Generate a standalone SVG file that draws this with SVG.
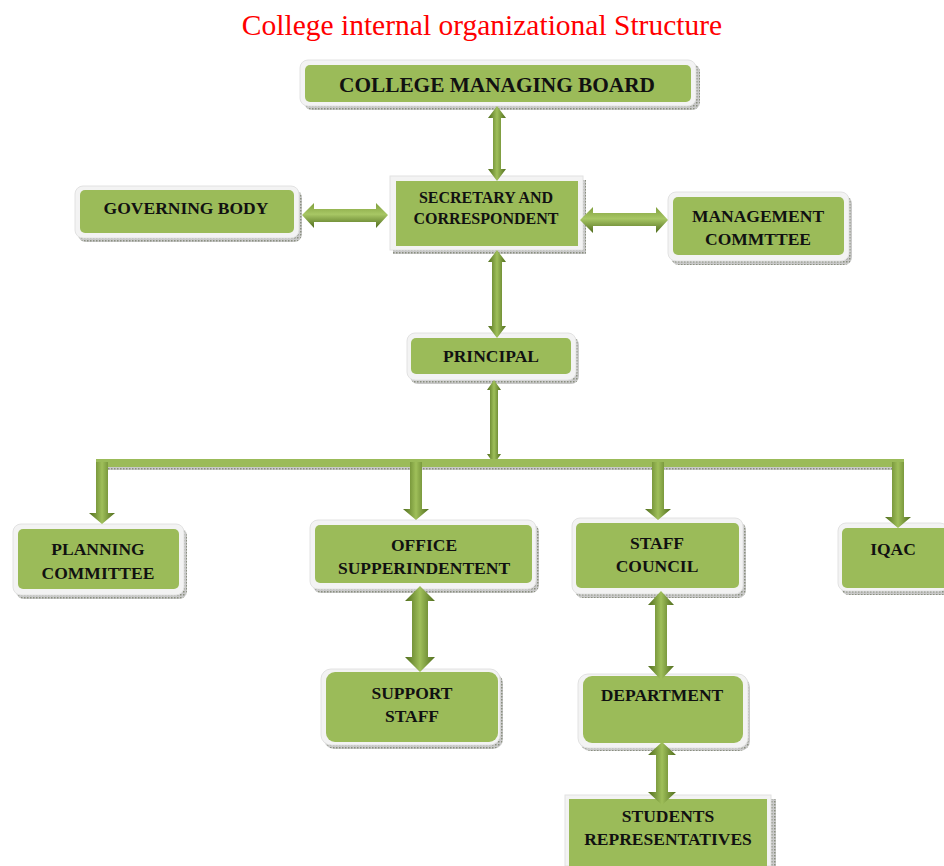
<svg xmlns="http://www.w3.org/2000/svg" width="944" height="866" viewBox="0 0 944 866">
<defs>
<linearGradient id="gv" x1="0" y1="0" x2="1" y2="0">
<stop offset="0" stop-color="#506d1c"/><stop offset="0.5" stop-color="#9fbf5a"/><stop offset="1" stop-color="#506d1c"/>
</linearGradient>
<linearGradient id="gh" x1="0" y1="0" x2="0" y2="1">
<stop offset="0" stop-color="#7f9f3c"/><stop offset="0.45" stop-color="#a8c765"/><stop offset="1" stop-color="#4f6b1c"/>
</linearGradient>
<pattern id="dots" width="3" height="3" patternUnits="userSpaceOnUse">
<rect width="3" height="3" fill="#c9c9c9"/><rect width="1.5" height="1.5" fill="#8a8f80"/>
</pattern>
</defs>
<style>
.title{font-family:"Liberation Serif","Times New Roman",serif;font-size:29.5px;fill:#ff0000}
.t{font-family:"Liberation Serif","Times New Roman",serif;font-weight:bold;font-size:17.5px;fill:#111;text-anchor:middle}
.shadow{fill:url(#dots)}
.outer{fill:#f3f3f3;stroke:#e2e2e2;stroke-width:1}
.inner{fill:#9bbb59}
.av{fill:url(#gv)}
.ah{fill:url(#gh)}
</style>
<rect width="944" height="866" fill="#ffffff"/>
<text class="title" x="482" y="35" text-anchor="middle">College internal organizational Structure</text>

<g id="board">
<rect class="shadow" x="304" y="64" width="396" height="46" rx="8"/>
<rect class="outer" x="300" y="60" width="396" height="46" rx="8"/>
<rect class="inner" x="305" y="65" width="386" height="37" rx="5"/>
<text class="t" x="497" y="92" style="font-size:21.3px">COLLEGE MANAGING BOARD</text>
</g>

<g id="secretary">
<rect class="shadow" x="393" y="180" width="193" height="74"/>
<rect class="outer" x="390" y="176" width="193" height="74"/>
<rect class="inner" x="396" y="181" width="182" height="65"/>
<text class="t" x="486" y="203" style="font-size:16px">SECRETARY AND</text>
<text class="t" x="486" y="224" style="font-size:16px">CORRESPONDENT</text>
</g>

<g id="governing">
<rect class="shadow" x="78" y="190" width="224" height="52" rx="8"/>
<rect class="outer" x="75" y="186" width="224" height="52" rx="8"/>
<rect class="inner" x="80" y="190" width="214" height="43" rx="5"/>
<text class="t" x="186" y="214">GOVERNING BODY</text>
</g>

<g id="management">
<rect class="shadow" x="671" y="196" width="181" height="69" rx="8"/>
<rect class="outer" x="668" y="192" width="181" height="69" rx="8"/>
<rect class="inner" x="673" y="197" width="171" height="58" rx="5"/>
<text class="t" x="758" y="222">MANAGEMENT</text>
<text class="t" x="758" y="245">COMMTTEE</text>
</g>

<g id="principal">
<rect class="shadow" x="410" y="337" width="169" height="47" rx="8"/>
<rect class="outer" x="407" y="333" width="169" height="47" rx="8"/>
<rect class="inner" x="411" y="338" width="160" height="36" rx="5"/>
<text class="t" x="491" y="362">PRINCIPAL</text>
</g>

<g id="planning">
<rect class="shadow" x="16" y="528" width="171" height="71" rx="8"/>
<rect class="outer" x="13" y="524" width="171" height="71" rx="8"/>
<rect class="inner" x="18" y="529" width="161" height="60" rx="5"/>
<text class="t" x="98" y="555">PLANNING</text>
<text class="t" x="98" y="579">COMMITTEE</text>
</g>

<g id="office">
<rect class="shadow" x="313" y="524" width="226" height="69" rx="8"/>
<rect class="outer" x="310" y="520" width="226" height="69" rx="8"/>
<rect class="inner" x="315" y="525" width="217" height="58" rx="5"/>
<text class="t" x="424" y="551">OFFICE</text>
<text class="t" x="424" y="574">SUPPERINDENTENT</text>
</g>

<g id="support">
<rect class="shadow" x="324" y="673" width="179" height="76" rx="10"/>
<rect class="outer" x="321" y="669" width="179" height="76" rx="10"/>
<rect class="inner" x="326" y="672" width="172" height="70" rx="9"/>
<text class="t" x="412" y="699">SUPPORT</text>
<text class="t" x="412" y="722">STAFF</text>
</g>

<g id="staffcouncil">
<rect class="shadow" x="575" y="522" width="171" height="76" rx="8"/>
<rect class="outer" x="572" y="518" width="171" height="76" rx="8"/>
<rect class="inner" x="576" y="523" width="163" height="65" rx="5"/>
<text class="t" x="657" y="549">STAFF</text>
<text class="t" x="657" y="572">COUNCIL</text>
</g>

<g id="iqac">
<rect class="shadow" x="841" y="527" width="110" height="68" rx="8"/>
<rect class="outer" x="838" y="523" width="110" height="68" rx="8"/>
<rect class="inner" x="842" y="528" width="106" height="60" rx="5"/>
<text class="t" x="893" y="555">IQAC</text>
</g>

<g id="department">
<rect class="shadow" x="580" y="677" width="170" height="74" rx="10"/>
<rect class="outer" x="578" y="674" width="170" height="74" rx="10"/>
<rect class="inner" x="583" y="676" width="160" height="67" rx="9"/>
<text class="t" x="662" y="701">DEPARTMENT</text>
</g>

<g id="students">
<rect class="shadow" x="768" y="799" width="8" height="67"/>
<rect class="outer" x="565" y="795" width="206" height="71"/>
<rect class="inner" x="569" y="799" width="198" height="67"/>
<text class="t" x="668" y="822">STUDENTS</text>
<text class="t" x="668" y="845">REPRESENTATIVES</text>
</g>

<g id="connectors">
<path class="av" d="M497,106 L506,118 L501,118 L501,169 L506,169 L497,181 L488,169 L493,169 L493,118 L488,118 Z"/>
<path class="av" d="M497,250 L506,262 L502,262 L502,326 L506,326 L497,338 L488,326 L492,326 L492,262 L488,262 Z"/>
<path class="av" d="M494,380 L501,390 L498,390 L498,454 L501,454 L494,464 L487,454 L490,454 L490,390 L487,390 Z"/>
<path class="ah" d="M302,215 L314,203 L314,209 L376,209 L376,203 L388,215 L376,228 L376,222 L314,222 L314,228 Z"/>
<path class="ah" d="M580,220 L593,207 L593,213 L656,213 L656,207 L668,220 L656,233 L656,226 L593,226 L593,233 Z"/>
<rect x="100" y="467" width="804" height="3" fill="url(#dots)"/>
<rect x="96" y="459" width="808" height="8" fill="#9bbb59"/>
<path class="av" d="M96,462 L108,462 L108,513 L115,513 L102,524 L89,513 L96,513 Z"/>
<path class="av" d="M410,462 L422,462 L422,509 L429,509 L416,520 L403,509 L410,509 Z"/>
<path class="av" d="M652,462 L664,462 L664,509 L671,509 L658,520 L645,509 L652,509 Z"/>
<path class="av" d="M892,462 L904,462 L904,517 L911,517 L898,528 L885,517 L892,517 Z"/>
<path class="av" d="M420,586 L435,601 L428,601 L428,657 L435,657 L420,672 L405,657 L412,657 L412,601 L405,601 Z"/>
<path class="av" d="M661,591 L674,605 L667,605 L667,666 L674,666 L661,680 L648,666 L655,666 L655,605 L648,605 Z"/>
<path class="av" d="M662,742 L676,755 L668,755 L668,792 L676,792 L662,805 L648,792 L656,792 L656,755 L648,755 Z"/>
</g>
</svg>
